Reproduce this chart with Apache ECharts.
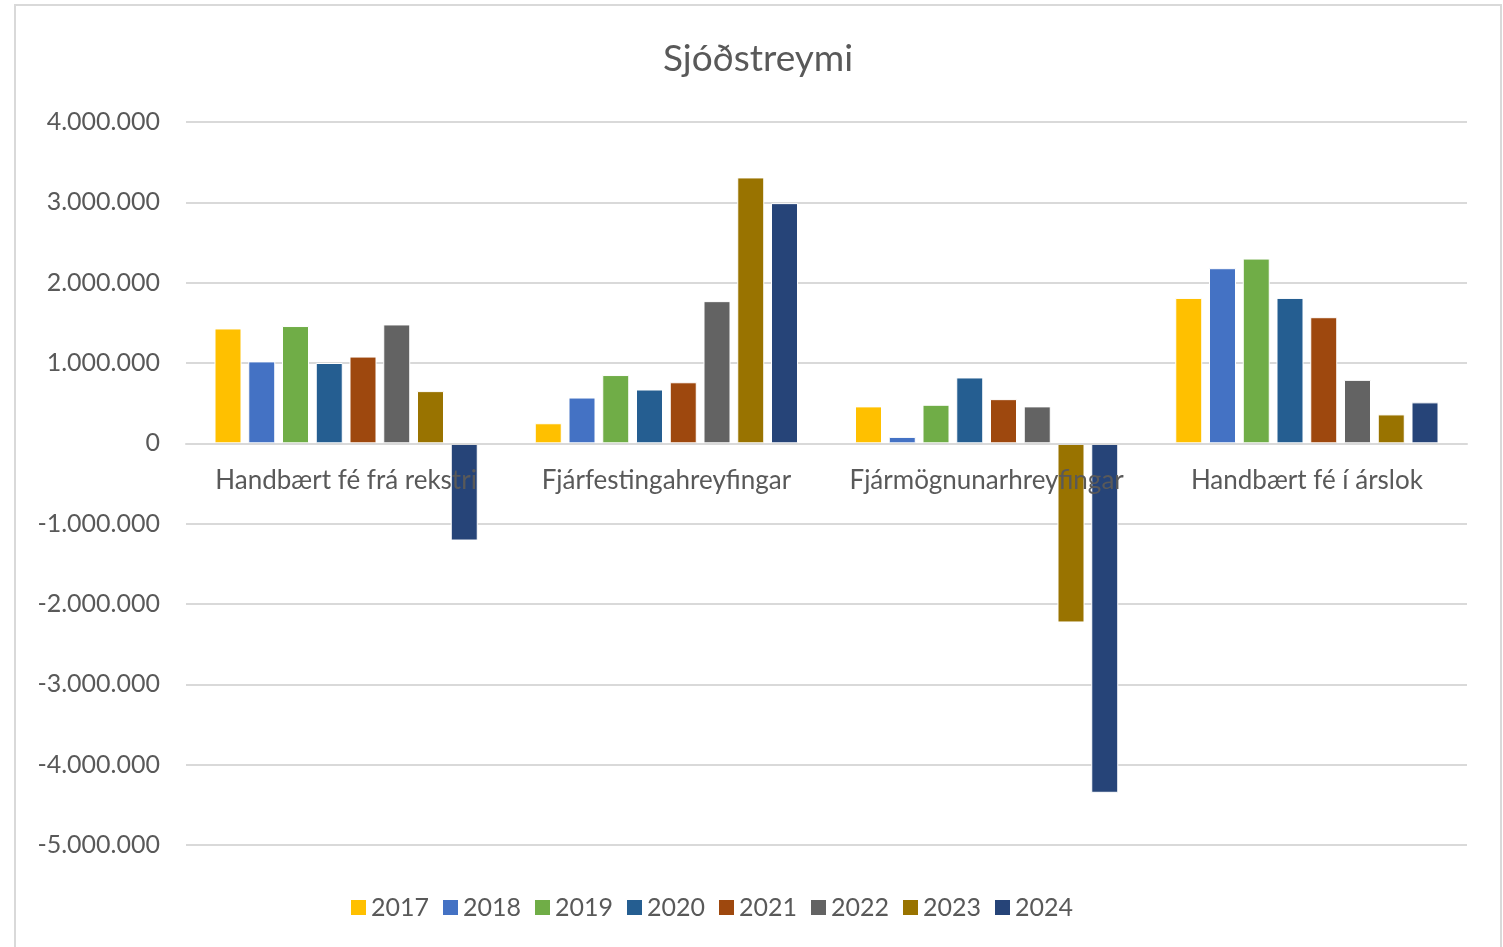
<!DOCTYPE html>
<html>
<head>
<meta charset="utf-8">
<script src="https://cdn.jsdelivr.net/npm/echarts@6/dist/echarts.min.js"></script>
<style>
  html, body { margin: 0; padding: 0; background: #fff; }
  #chart { width: 1503px; height: 947px; }
</style>
</head>
<body>
<div id="chart"></div>
<script>
// categories on the x axis
const categories = ['Handbært fé frá rekstri', 'Fjárfestingahreyfingar', 'Fjármögnunarhreyfingar', 'Handbært fé í árslok'];
const years = ['2017', '2018', '2019', '2020', '2021', '2022', '2023', '2024'];
const colors = ['#FFC000', '#4472C4', '#70AD47', '#255E91', '#9E480E', '#636363', '#997300', '#264478'];

// values per year, one per category
const v2017 = [1430000, 250000, 460000, 1810000];
const v2018 = [1020000, 570000, 80000, 2180000];
const v2019 = [1460000, 850000, 480000, 2300000];
const v2020 = [1000000, 670000, 820000, 1810000];
const v2021 = [1080000, 760000, 550000, 1570000];
const v2022 = [1480000, 1770000, 460000, 790000];
const v2023 = [650000, 3310000, -2230000, 360000];
const v2024 = [-1210000, 2990000, -4350000, 510000];
const values = [v2017, v2018, v2019, v2020, v2021, v2022, v2023, v2024];

const yMin = -5000000;
const yMax = 4000000;
const yStep = 1000000;

const font = 'Lato, "Liberation Sans", sans-serif';
const textColor = '#595959';

function fmt(n) {
  const s = Math.abs(n).toString().replace(/\B(?=(\d{3})+(?!\d))/g, '.');
  return (n < 0 ? '-' : '') + s;
}

// grid box, the x axis sits on the zero line
const gridTop = 122, gridBottom = 102;
const gridH = 947 - gridTop - gridBottom;
const zeroOffset = -gridH * (0 - yMin) / (yMax - yMin);

const chart = echarts.init(document.getElementById('chart'));
chart.setOption({
  animation: false,
  color: colors,
  title: {
    text: 'Sjóðstreymi',
    left: 753,
    textAlign: 'center',
    top: 36,
    textStyle: { fontFamily: font, fontSize: 37, fontWeight: 'normal', color: textColor },
  },
  legend: {
    bottom: 22,
    left: 344,
    itemWidth: 17,
    itemHeight: 17,
    itemGap: 12,
    icon: 'rect',
    textStyle: { fontFamily: font, fontSize: 25, color: textColor, padding: [0, 0, 0, -1] },
  },
  grid: { left: 186, right: 36, top: gridTop, bottom: gridBottom, containLabel: false },
  xAxis: {
    type: 'category',
    data: categories,
    z: 10,
    offset: zeroOffset,
    axisTick: { show: false },
    axisLine: { show: true, onZero: false, lineStyle: { color: '#d9d9d9', width: 2 } },
    axisLabel: { margin: 24, fontFamily: font, fontSize: 26, color: textColor, interval: 0 },
  },
  yAxis: {
    type: 'value',
    min: yMin,
    max: yMax,
    interval: yStep,
    axisLine: { show: false },
    axisTick: { show: false },
    splitLine: { lineStyle: { color: '#d9d9d9', width: 2 } },
    axisLabel: { margin: 26, fontFamily: font, fontSize: 25, color: textColor, formatter: fmt },
  },
  graphic: [{
    type: 'rect',
    shape: { x: 15, y: 5, width: 1486, height: 960 },
    style: { fill: 'none', stroke: '#d9d9d9', lineWidth: 2 },
    silent: true,
  }],
  series: years.map((y, i) => ({
    name: y,
    type: 'bar',
    data: values[i],
    barWidth: 27,
    barGap: '25%',
    itemStyle: { borderColor: '#ffffff', borderWidth: 1 },
  })),
});
</script>
</body>
</html>
